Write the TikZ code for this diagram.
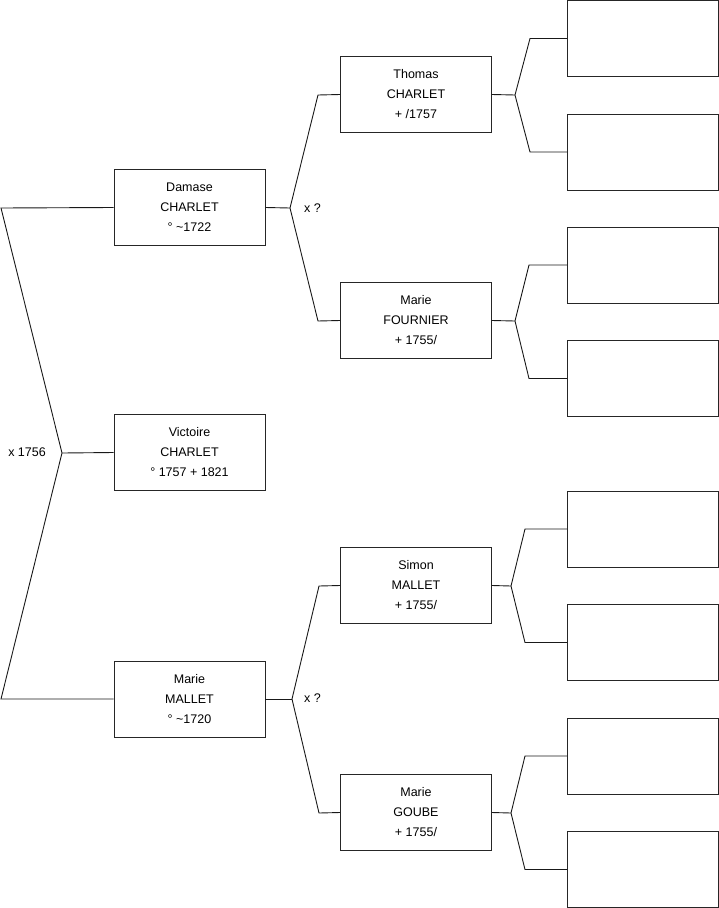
\documentclass[tikz,border=0pt]{standalone}
\usepackage{fontspec}
\setmainfont{Liberation Sans}
\begin{document}
\begin{tikzpicture}[x=1pt,y=-1pt,
  person/.style={draw=black!85,line width=0.9pt,rectangle,minimum width=151pt,minimum height=76pt,inner sep=0pt,
    align=center,font=\fontsize{12.5}{20}\selectfont},
  link/.style={draw=black!90,line width=0.9pt},
  lbl/.style={font=\fontsize{12.5}{14}\selectfont,inner sep=0pt}]
\useasboundingbox (0,0) rectangle (719,908);
% generation 1-2
\node[person] (damase) at (189.5,207.5) {Damase\\CHARLET\\° \textasciitilde1722};
\node[person] (victoire) at (189.5,452.5) {Victoire\\CHARLET\\° 1757 + 1821};
\node[person] (mmallet) at (189.5,699) {Marie\\MALLET\\° \textasciitilde1720};
% generation 3
\node[person] (thomas) at (416,94.5) {Thomas\\CHARLET\\+ /1757};
\node[person] (fournier) at (416,320.5) {Marie\\FOURNIER\\+ 1755/};
\node[person] (simon) at (416,585.5) {Simon\\MALLET\\+ 1755/};
\node[person] (goube) at (416,812.5) {Marie\\GOUBE\\+ 1755/};
% generation 4 (empty)
\node[person] (r1) at (643,38.5) {};
\node[person] (r2) at (643,152) {};
\node[person] (r3) at (643,265) {};
\node[person] (r4) at (643,378.5) {};
\node[person] (r5) at (643,529) {};
\node[person] (r6) at (643,642.5) {};
\node[person] (r7) at (643,756) {};
\node[person] (r8) at (643,869.5) {};
% main bracket
\coordinate (a0) at (62,453);
\coordinate (t0) at (1,208);
\coordinate (b0) at (1,699);
\draw[link] (damase.west) -- (t0) -- (a0) -- (b0) -- (mmallet.west);
\draw[link] (a0) -- (victoire.west);
\node[lbl,anchor=east] (m0) at (46,452) {x 1756};
% Damase parents
\coordinate (a1) at (290,208);
\coordinate (t1) at (318,95);
\coordinate (b1) at (318,321);
\draw[link] (damase.east) -- (a1);
\draw[link] (thomas.west) -- (t1) -- (a1) -- (b1) -- (fournier.west);
\node[lbl,anchor=west] (m1) at (304,208) {x ?};
% Marie Mallet parents
\coordinate (a2) at (292,699);
\coordinate (t2) at (319,586);
\coordinate (b2) at (319,813);
\draw[link] (mmallet.east) -- (a2);
\draw[link] (simon.west) -- (t2) -- (a2) -- (b2) -- (goube.west);
\node[lbl,anchor=west] (m2) at (304,698) {x ?};
% gen 3 -> gen 4
\coordinate (a3) at (515,95);
\draw[link] (thomas.east) -- (a3);
\draw[link] (r1.west) -- (530,38.5) -- (a3) -- (530,152) -- (r2.west);
\coordinate (a4) at (515,321);
\draw[link] (fournier.east) -- (a4);
\draw[link] (r3.west) -- (529,265) -- (a4) -- (529,378.5) -- (r4.west);
\coordinate (a5) at (511,586);
\draw[link] (simon.east) -- (a5);
\draw[link] (r5.west) -- (525,529) -- (a5) -- (525,642.5) -- (r6.west);
\coordinate (a6) at (511,813);
\draw[link] (goube.east) -- (a6);
\draw[link] (r7.west) -- (525,756) -- (a6) -- (525,869.5) -- (r8.west);
\end{tikzpicture}
\end{document}
